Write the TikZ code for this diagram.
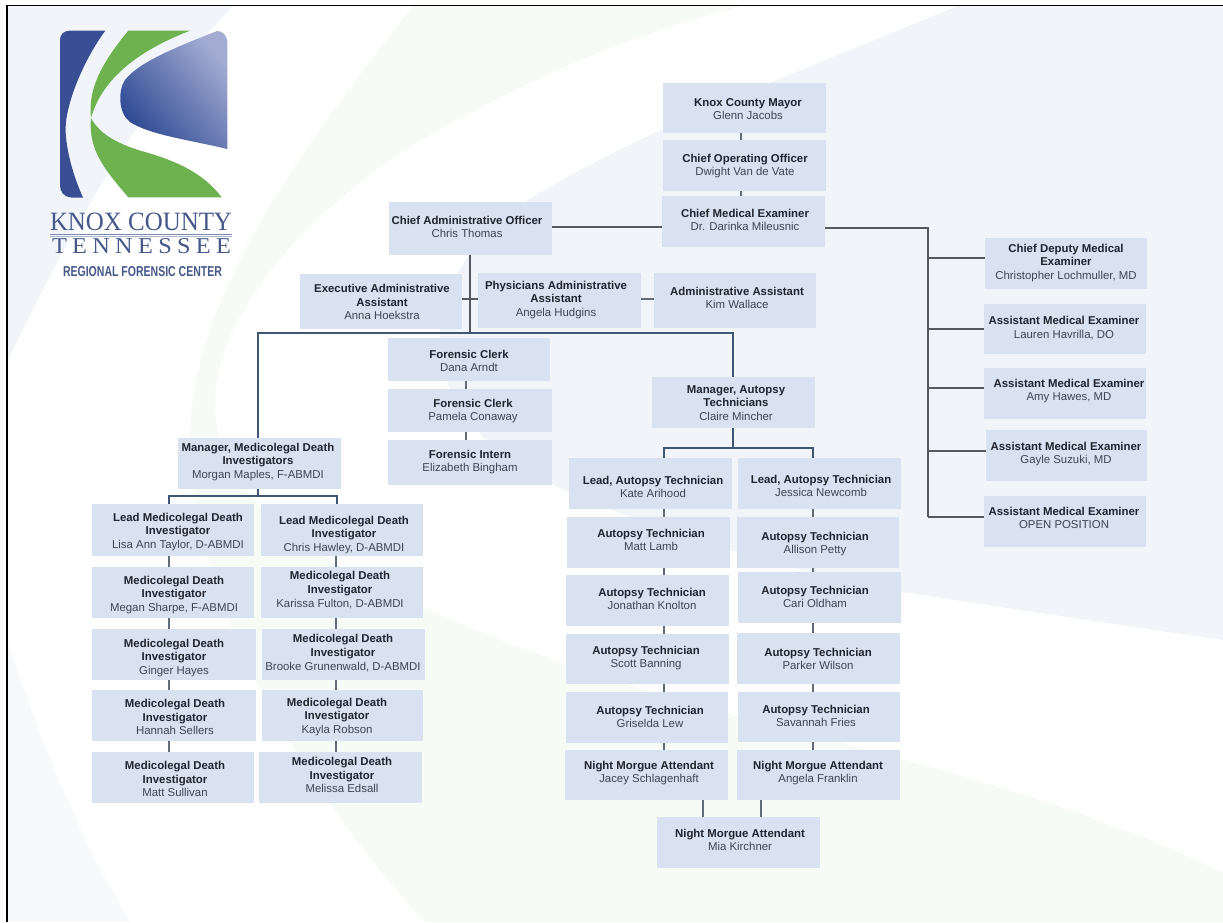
\documentclass[tikz,border=0pt]{standalone}
\usepackage{fontspec}
\usepackage{graphicx}
\setmainfont{Liberation Sans}
\newfontfamily\logoserif[LetterSpace=0]{Liberation Serif}
\newfontfamily\logospaced[LetterSpace=22]{Liberation Serif}
\definecolor{boxfill}{HTML}{D9E2F1}
\definecolor{bgblue}{HTML}{F1F5F9}
\definecolor{bgfaint}{HTML}{F7F9FB}
\definecolor{bggreen}{HTML}{F7FBF5}
\definecolor{titleink}{HTML}{20242C}
\definecolor{nameink}{HTML}{3F4550}
\definecolor{trunk}{HTML}{3F5674}
\definecolor{stem}{HTML}{626B78}
\definecolor{greyline}{HTML}{55595F}
\definecolor{logoblue}{HTML}{3A4F93}
\definecolor{logolight}{HTML}{A3ABD2}
\definecolor{logomid}{HTML}{5365A6}
\definecolor{logodark}{HTML}{2B4792}
\definecolor{logogreen}{HTML}{6DB24F}
\definecolor{logotext}{HTML}{46588A}
\tikzset{
  orgbox/.style={fill=boxfill,draw=none,inner sep=0pt,outer sep=0pt},
  orgtext/.style={align=center,inner sep=0pt,outer sep=0pt,
    font=\fontsize{11.4}{13.8}\selectfont},
  trunkline/.style={draw=trunk,line width=1.5pt},
  stemline/.style={draw=stem,line width=1.2pt},
  greylink/.style={draw=greyline,line width=1.1pt},
  thicklink/.style={draw=stem,line width=1.7pt},
  logotxt/.style={inner sep=0pt,outer sep=0pt,anchor=south west,text=logotext}
}
\newcommand{\nextline}{\\\bfseries\color{titleink}}
% name, x0, y0, x1, y1, text x, text y, title, person
\newcommand{\orgunit}[9]{%
  \node[orgbox,minimum width={(#4-#2)*1pt},minimum height={(#5-#3)*1pt}]
    (#1) at ({(#2+#4)/2},{(#3+#5)/2}) {};
  \node[orgtext] (#1t) at (#6,#7) {\bfseries\color{titleink}#8\\\mdseries\color{nameink}#9};
}
\begin{document}
\begin{tikzpicture}[x=1pt,y=-1pt]
\useasboundingbox (0,0) rectangle (1223,922);
% background
\fill[white] (0,0) rectangle (1223,922);
\fill[bgblue] (7,6) -- (233,6) .. controls (150,90) and (70,230) .. (7,362) -- cycle;
\fill[bgfaint] (7,640) .. controls (40,740) and (80,840) .. (130,922) -- (7,922) -- cycle;
\fill[bggreen] (413,6) -- (743,6) .. controls (640,30) and (520,80) .. (400,153)
  .. controls (300,220) and (215,320) .. (215,400)
  .. controls (215,500) and (300,560) .. (500,640)
  .. controls (650,700) and (800,730) .. (903,760)
  .. controls (1027,793) and (1143,833) .. (1223,873)
  -- (1223,922) -- (425,922)
  .. controls (330,820) and (190,620) .. (190,440)
  .. controls (190,300) and (300,150) .. (413,6) -- cycle;
\fill[bgblue] (957,6) -- (1223,6) -- (1223,640) .. controls (1120,625) and (1000,607) .. (903,592)
  .. controls (780,570) and (640,525) .. (560,488)
  .. controls (480,450) and (440,400) .. (440,340)
  .. controls (440,280) and (480,230) .. (533,197)
  .. controls (650,125) and (830,60) .. (957,6) -- cycle;
% sheet edge
\fill[black] (6,4.6) rectangle (1223,6.4);
\fill[black] (5.6,4.6) rectangle (7.8,922);
% logo
\fill[logoblue] (60,40) .. controls (60,34) and (64,30.7) .. (70,30.7) -- (105.3,30.7)
  .. controls (85,58) and (64,105) .. (65.7,133)
  .. controls (67,155) and (75,180) .. (83,197.5) -- (71,197.5)
  .. controls (64,197) and (60,192) .. (60,185) -- cycle;
\fill[logogreen] (128.3,30.7) -- (190,30.7) .. controls (145,48) and (103,75) .. (91,118)
  .. controls (88,90) and (100,65) .. (128.3,30.7) -- cycle;
\fill[logogreen] (91,118) .. controls (100,135) and (120,145) .. (145,152)
  .. controls (180,162) and (205,175) .. (221.7,197.3) -- (128.3,197.3)
  .. controls (105,170) and (88,150) .. (91,118) -- cycle;
\path[top color=logolight,middle color=logomid,bottom color=logodark,shading angle=-50]
  (217,31) .. controls (222,31) and (227.3,35) .. (227.3,42) -- (227.3,149)
  .. controls (190,140) and (150,135) .. (130,122)
  .. controls (118,113) and (118,90) .. (125,80)
  .. controls (140,60) and (190,42) .. (217,31) -- cycle;
\node[logotxt] (logoA) at (50,231) {\resizebox{182pt}{17.5pt}{\logoserif KNOX COUNTY}};
\fill[logotext!70] (50,234.3) rectangle (232,235.2);
\fill[logotext!45] (50,236.2) rectangle (232,236.9);
\node[logotxt] (logoB) at (52,254) {\resizebox{179pt}{15pt}{\logospaced TENNESSEE}};
\node[logotxt] (logoC) at (63,277) {\resizebox{159pt}{10pt}{\bfseries REGIONAL FORENSIC CENTER}};
% units
\orgunit{mayor}{663}{83}{826}{133}{748}{109}{Knox County Mayor}{Glenn Jacobs}
\orgunit{coo}{663}{140}{826}{191}{745}{166}{Chief Operating Officer}{Dwight Van de Vate}
\orgunit{cme}{662}{196}{825}{247}{745}{220}{Chief Medical Examiner}{Dr. Darinka Mileusnic}
\orgunit{cao}{389}{202}{552}{255}{467}{227}{Chief Administrative Officer}{Chris Thomas}
\orgunit{exec}{300}{274}{462}{329}{382}{302}{Executive Administrative\nextline Assistant}{Anna Hoekstra}
\orgunit{phys}{478}{273}{641}{328}{556}{300}{Physicians Administrative\nextline Assistant}{Angela Hudgins}
\orgunit{admin}{654}{273}{816}{328}{737}{298}{Administrative Assistant}{Kim Wallace}
\orgunit{clerkA}{387.5}{338}{550}{381}{469}{361}{Forensic Clerk}{Dana Arndt}
\orgunit{clerkB}{388}{389}{552}{432}{473}{411}{Forensic Clerk}{Pamela Conaway}
\orgunit{intern}{388}{440}{552}{485}{470}{462}{Forensic Intern}{Elizabeth Bingham}
\orgunit{depA}{985}{238}{1147}{289}{1066}{263}{Chief Deputy Medical\nextline Examiner}{Christopher Lochmuller, MD}
\orgunit{depB}{984}{304}{1146}{354}{1064}{328}{Assistant Medical Examiner}{Lauren Havrilla, DO}
\orgunit{depC}{984}{368}{1146}{419}{1069}{391}{Assistant Medical Examiner}{Amy Hawes, MD}
\orgunit{depD}{986}{430}{1147}{481}{1066}{454}{Assistant Medical Examiner}{Gayle Suzuki, MD}
\orgunit{depE}{984}{496}{1146}{547}{1064}{518}{Assistant Medical Examiner}{OPEN POSITION}
\orgunit{mgrM}{178}{438}{341}{489}{258}{462}{Manager, Medicolegal Death\nextline Investigators}{Morgan Maples, F-ABMDI}
\orgunit{mlA}{92}{504}{254}{556}{178}{532}{Lead Medicolegal Death\nextline Investigator}{Lisa Ann Taylor, D-ABMDI}
\orgunit{mrA}{261}{504}{423}{556}{344}{535}{Lead Medicolegal Death\nextline Investigator}{Chris Hawley, D-ABMDI}
\orgunit{mlB}{92}{567}{254}{618}{174}{595}{Medicolegal Death\nextline Investigator}{Megan Sharpe, F-ABMDI}
\orgunit{mrB}{261}{567}{423}{618}{340}{590}{Medicolegal Death\nextline Investigator}{Karissa Fulton, D-ABMDI}
\orgunit{mlC}{92}{629}{256}{680}{174}{658}{Medicolegal Death\nextline Investigator}{Ginger Hayes}
\orgunit{mrC}{262}{629}{425}{680}{343}{653}{Medicolegal Death\nextline Investigator}{Brooke Grunenwald, D-ABMDI}
\orgunit{mlD}{92}{690}{256}{741}{175}{717}{Medicolegal Death\nextline Investigator}{Hannah Sellers}
\orgunit{mrD}{262}{690}{423}{741}{337}{717}{Medicolegal Death\nextline Investigator}{Kayla Robson}
\orgunit{mlE}{92}{752}{254}{803}{175}{779}{Medicolegal Death\nextline Investigator}{Matt Sullivan}
\orgunit{mrE}{259}{752}{422}{803}{342}{775}{Medicolegal Death\nextline Investigator}{Melissa Edsall}
\orgunit{mgrA}{652}{377}{815}{428}{736}{403}{Manager, Autopsy\nextline Technicians}{Claire Mincher}
\orgunit{alA}{569}{458}{732}{509}{653}{487}{Lead, Autopsy Technician}{Kate Arihood}
\orgunit{arA}{738}{458}{901}{509}{821}{486}{Lead, Autopsy Technician}{Jessica Newcomb}
\orgunit{alB}{567}{517}{730}{568}{651}{540}{Autopsy Technician}{Matt Lamb}
\orgunit{arB}{737}{517}{899}{568}{815}{544}{Autopsy Technician}{Allison Petty}
\orgunit{alC}{566}{575}{729}{626}{652}{599}{Autopsy Technician}{Jonathan Knolton}
\orgunit{arC}{738}{572}{901}{623}{815}{597}{Autopsy Technician}{Cari Oldham}
\orgunit{alD}{566}{634}{729}{684}{646}{658}{Autopsy Technician}{Scott Banning}
\orgunit{arD}{737}{633}{900}{684}{818}{659}{Autopsy Technician}{Parker Wilson}
\orgunit{alE}{566}{692}{728}{743}{650}{717}{Autopsy Technician}{Griselda Lew}
\orgunit{arE}{738}{692}{900}{742}{816}{716}{Autopsy Technician}{Savannah Fries}
\orgunit{alF}{565}{750}{728}{800}{649}{773}{Night Morgue Attendant}{Jacey Schlagenhaft}
\orgunit{arF}{737}{750}{900}{800}{818}{773}{Night Morgue Attendant}{Angela Franklin}
\orgunit{night}{657}{817}{820}{868}{740}{840}{Night Morgue Attendant}{Mia Kirchner}
% top chain
\draw[stemline] (mayor.south -| 741,0) -- (coo.north -| 741,0);
\draw[stemline] (coo.south -| 741,0) -- (cme.north -| 741,0);
\draw[greylink] (cao.east |- 0,227) -- (cme.west |- 0,227);
% medical examiner tree
\coordinate (metop) at (928,228);
\coordinate (mebot) at (928,517);
\draw[greylink] (cme.east |- metop) -- (metop) -- (mebot);
\draw[greylink] (928,258) -- (depA.west |- 0,258);
\draw[greylink] (928,329) -- (depB.west |- 0,329);
\draw[greylink] (928,388) -- (depC.west |- 0,388);
\draw[greylink] (928,451) -- (depD.west |- 0,451);
\draw[greylink] (mebot) -- (depE.west |- mebot);
% admin chain
\coordinate (cjunction) at (470,333);
\draw[greylink] (cao.south -| cjunction) -- (cjunction);
\draw[greylink] (exec.east |- 0,299) -- (phys.west |- 0,299);
\draw[thicklink] (phys.east |- 0,299) -- (admin.west |- 0,299);
\draw[trunkline] (mgrM.north -| 258,0) -- (258,333) -- (733,333) -- (mgrA.north -| 733,0);
% forensic clerks
\draw[stemline] (clerkA.south -| 466,0) -- (clerkB.north -| 466,0);
\draw[stemline] (clerkB.south -| 466,0) -- (intern.north -| 466,0);
% investigators
\draw[trunkline] (mgrM.south -| 258,0) -- (258,496);
\draw[trunkline] (mlA.north -| 169,0) -- (169,496) -- (337,496) -- (mrA.north -| 337,0);
\foreach \a/\b in {mlA/mlB,mlB/mlC,mlC/mlD,mlD/mlE}{\draw[stemline] (\a.south -| 169,0) -- (\b.north -| 169,0);}
\foreach \a/\b in {mrA/mrB,mrB/mrC,mrC/mrD,mrD/mrE}{\draw[stemline] (\a.south -| 336,0) -- (\b.north -| 336,0);}
% autopsy
\draw[trunkline] (mgrA.south -| 733,0) -- (733,448);
\draw[trunkline] (alA.north -| 664,0) -- (664,448) -- (813,448) -- (arA.north -| 813,0);
\foreach \a/\b in {alA/alB,alB/alC,alC/alD,alD/alE,alE/alF}{\draw[stemline] (\a.south -| 664,0) -- (\b.north -| 664,0);}
\foreach \a/\b in {arA/arB,arB/arC,arC/arD,arD/arE,arE/arF}{\draw[stemline] (\a.south -| 813,0) -- (\b.north -| 813,0);}
\draw[thicklink] (alF.south -| 703,0) -- (night.north -| 703,0);
\draw[thicklink] (arF.south -| 761,0) -- (night.north -| 761,0);
\end{tikzpicture}
\end{document}
